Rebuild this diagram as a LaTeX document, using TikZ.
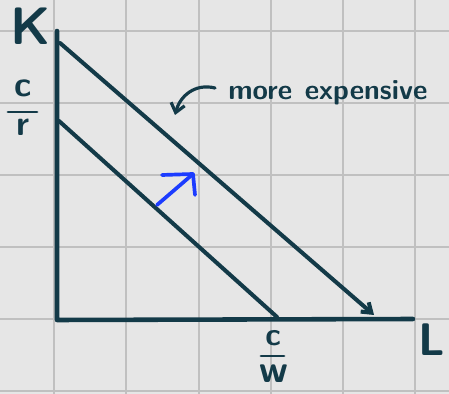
\documentclass[tikz,border=0pt]{standalone}
\usepackage{amsmath}
\usepackage{xcolor}
\usetikzlibrary{arrows.meta,calc}
\definecolor{ink}{RGB}{19,58,72}
\definecolor{pen}{RGB}{28,60,255}
\definecolor{paper}{RGB}{230,230,230}
\definecolor{gridgray}{RGB}{192,192,192}

\begin{document}
\begin{tikzpicture}[x=0.02cm,y=-0.02cm,line join=round,line cap=round,
  axis/.style={ink,line width=2.6pt},
  budget/.style={ink,line width=2.3pt},
  fracbar/.style={ink,line width=1.6pt},
  lab/.style={ink,inner sep=0pt,font=\sffamily\bfseries\fontsize{20}{20}\selectfont}]
  \fill[paper] (0,0) rectangle (449,394);
  \useasboundingbox (0,0) rectangle (449,394);
  \foreach \gx in {54,126,199,271,343,415}
    \draw[gridgray,line width=0.6pt] (\gx,0) -- (\gx,394);
  \foreach \gy in {31,103,175,247,319,391}
    \draw[gridgray,line width=0.6pt] (0,\gy) -- (449,\gy);
  \coordinate (O) at (57,320);
  \coordinate (KT) at (57,31);
  \coordinate (LE) at (413,319);
  \coordinate (A0) at (59,121);
  \coordinate (B0) at (277,317);
  \coordinate (A1) at (60,43);
  \coordinate (B1) at (374,315);
  \coordinate (P0) at (157,205);
  \coordinate (P1) at (193,174);
  \coordinate (PL) at (162,175);
  \coordinate (PD) at (195,195);
  \draw[axis] (KT) -- (O) -- (LE);
  \draw[budget] (A0) -- (B0);
  \draw[budget,-{Straight Barb[length=5pt,width=7pt]}] (A1) -- (B1);
  \draw[pen,line width=2.1pt] (P0) -- (P1);
  \draw[pen,line width=2.1pt] (PL) -- (P1) -- (PD);
  \node[lab,font=\sffamily\bfseries\fontsize{30}{30}\selectfont] (K) at (31,26) {K};
  \node[lab,font=\sffamily\bfseries\fontsize{26}{26}\selectfont] (L) at (432,340) {L};
  % c/r on the K axis
  \node[lab] (cK) at (23,88) {c};
  \node[lab] (rK) at (23,127) {r};
  \draw[fracbar] (8,112) -- (37,112);
  % c/w on the L axis
  \node[lab,font=\sffamily\bfseries\fontsize{18}{18}\selectfont] (cL) at (273,338) {c};
  \node[lab,font=\sffamily\bfseries\fontsize{22}{22}\selectfont] (wL) at (274,374) {w};
  \draw[fracbar] (261,356) -- (284,356);
  \node[lab,anchor=west,font=\sffamily\bfseries\fontsize{16}{16}\selectfont] (txt) at (228,93) {more\hspace{0.45em}expensive};
  \draw[ink,line width=1.8pt,-{Straight Barb[length=5pt,width=8pt]}]
    ($(txt.west)+(-13,-5)$) .. controls (195,83) and (180,96) .. (175,115);
\end{tikzpicture}
\end{document}
